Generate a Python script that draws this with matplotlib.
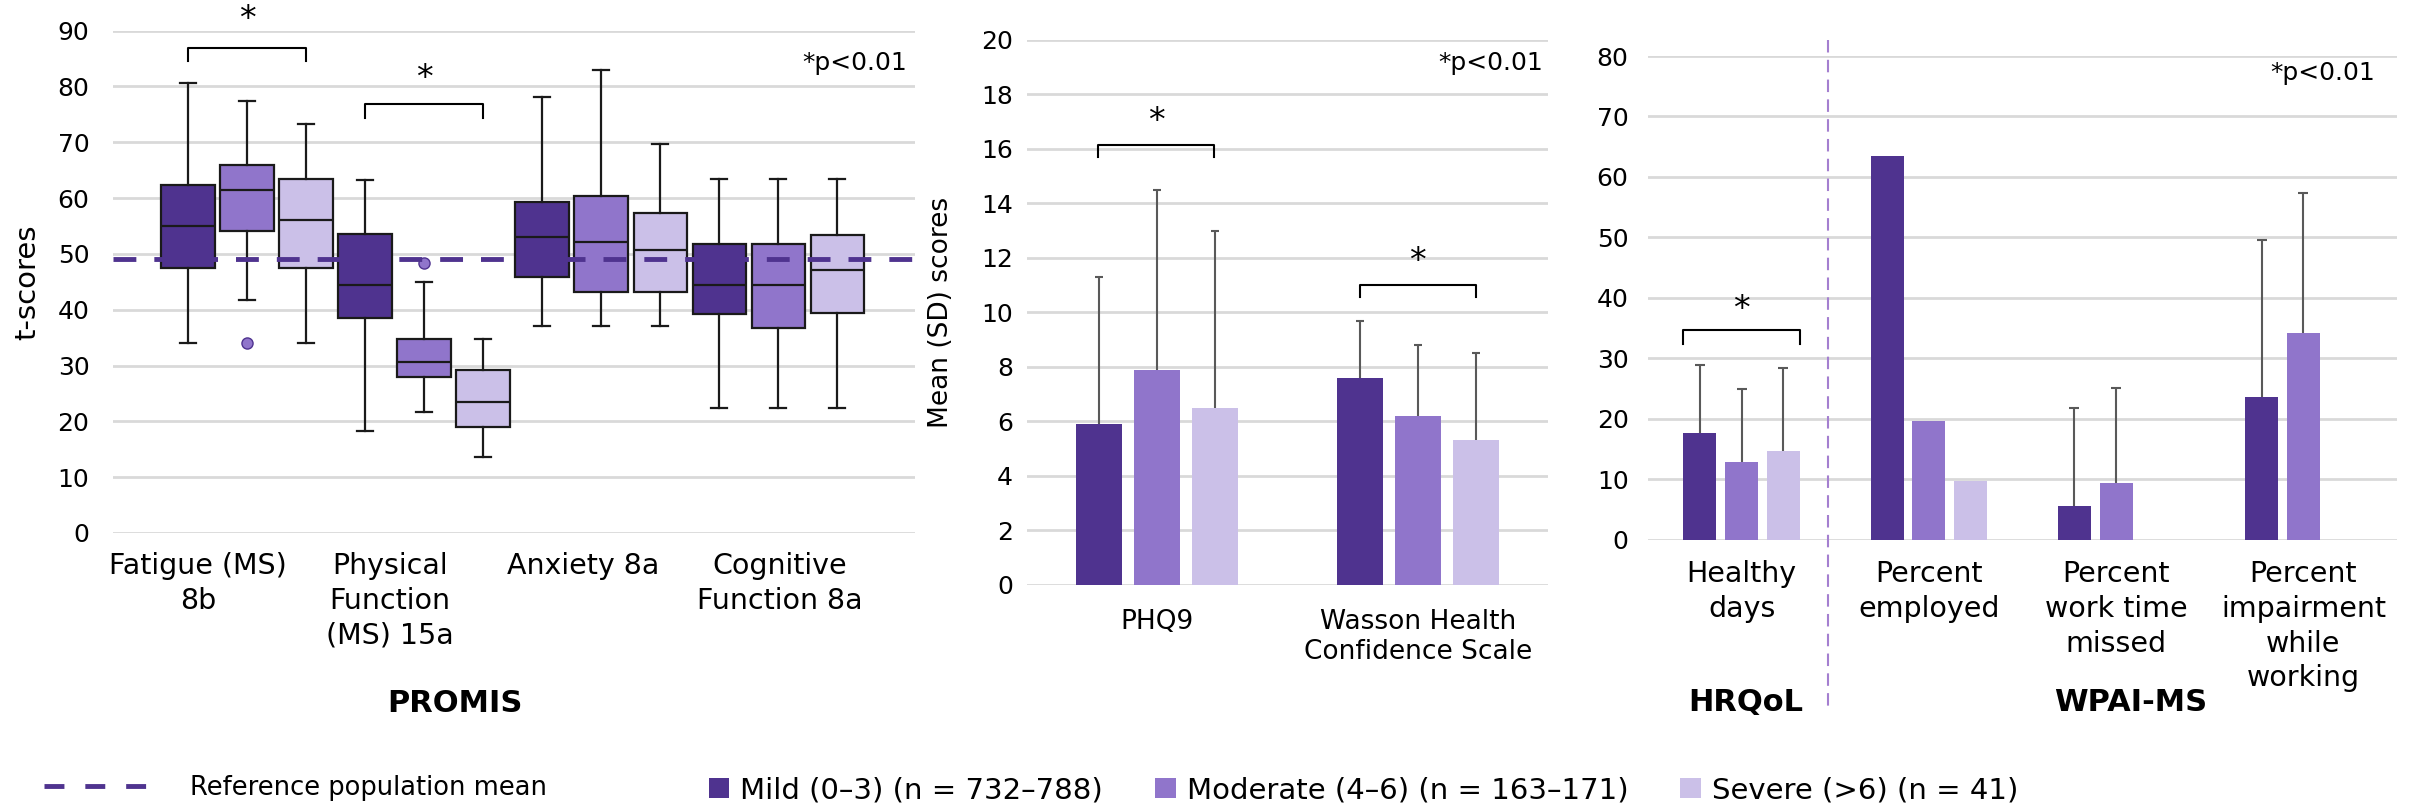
import numpy as np
import matplotlib
matplotlib.use("Agg")
import matplotlib.pyplot as plt
from matplotlib.lines import Line2D
from matplotlib.patches import Patch
import matplotlib.transforms as mtransforms

plt.rcParams['font.family'] = ['DejaVu Sans']

# ---- data ----
severity = ['Mild (0–3) (n = 732–788)', 'Moderate (4–6) (n = 163–171)', 'Severe (>6) (n = 41)']
colors = ['#4f338f', '#9075cb', '#cbc0e8']

promis_labels = ['Fatigue (MS)\n8b', 'Physical\nFunction\n(MS) 15a', 'Anxiety 8a', 'Cognitive\nFunction 8a']
# per box: Fatigue M/Mo/S, Physical M/Mo/S, Anxiety M/Mo/S, Cognitive M/Mo/S
box_whislo = [34.0, 41.7, 34.0, 18.2, 21.7, 13.7, 37.0, 37.0, 37.0, 22.4, 22.4, 22.4]
box_q1 = [47.5, 54.1, 47.5, 38.6, 27.9, 18.9, 45.8, 43.1, 43.1, 39.2, 36.8, 39.4]
box_med = [55.0, 61.4, 56.1, 44.5, 30.7, 23.4, 53.1, 52.1, 50.7, 44.5, 44.5, 47.1]
box_q3 = [62.4, 66.0, 63.5, 53.5, 34.8, 29.2, 59.3, 60.3, 57.3, 51.7, 51.7, 53.3]
box_whishi = [80.7, 77.3, 73.3, 63.2, 45.0, 34.8, 78.1, 82.9, 69.6, 63.5, 63.5, 63.5]
box_fliers = [[], [34.1], [], [], [48.4], [], [], [], [], [], [], []]
ref_mean = 49.1

mid_labels = ['PHQ9', 'Wasson Health\nConfidence Scale']
mid_mean = [[5.9, 7.6], [7.9, 6.2], [6.5, 5.3]]
mid_sd = [[5.4, 2.1], [6.6, 2.6], [6.5, 3.2]]

right_labels = ['Healthy\ndays', 'Percent\nemployed', 'Percent\nwork time\nmissed', 'Percent\nimpairment\nwhile\nworking']
right_mean = [[17.7, 63.4, 5.6, 23.5], [12.8, 19.6, 9.3, 34.1], [14.7, 9.6, np.nan, np.nan]]
right_sd = [[11.2, 0, 16.2, 26.1], [12.1, 0, 15.8, 23.3], [13.6, 0, 0, 0]]

W, H = 2409, 811
fig = plt.figure(figsize=(W / 100, H / 100), dpi=100)

GRID = '#d9d9d9'
FS = 18
CAT_FS = 20.5


def px_axes(x0, x1, ytop, ybot):
    return fig.add_axes([x0 / W, (H - ybot) / H, (x1 - x0) / W, (ybot - ytop) / H])


def style(ax, ypad):
    for s in ax.spines.values():
        s.set_visible(False)
    ax.tick_params(length=0, labelsize=FS)
    ax.tick_params(axis='y', pad=ypad)
    ax.yaxis.grid(True, color=GRID, linewidth=2)
    ax.set_axisbelow(True)


def bracket(ax, x0, x1, ylo, yhi, ystar):
    ax.plot([x0, x0, x1, x1], [ylo, yhi, yhi, ylo], color='black', lw=1.5, clip_on=False)
    ax.text((x0 + x1) / 2, ystar, '*', ha='center', va='center', fontsize=24, clip_on=False)


def up_errors(ax, x, m, sd, cap):
    # upper-only error bars, no cap at the bar top
    eb = ax.errorbar(x, m, yerr=[np.zeros(len(m)), sd], fmt='none', ecolor='#595959',
                     elinewidth=1.5, capsize=cap, capthick=1.5)
    eb[1][0].set_visible(False)


# ---- left: PROMIS boxplots ----
ax1 = px_axes(113, 915, 30.6, 533)
style(ax1, 17)
stats = []
for i in range(12):
    stats.append(dict(med=box_med[i], q1=box_q1[i], q3=box_q3[i],
                      whislo=box_whislo[i], whishi=box_whishi[i], fliers=box_fliers[i]))
pos = np.arange(12)
bp = ax1.bxp(stats, positions=pos, widths=0.9, patch_artist=True, capwidths=0.27,
             boxprops=dict(edgecolor='#1a1a1a', linewidth=1.6),
             medianprops=dict(color='#1a1a1a', linewidth=1.6),
             whiskerprops=dict(color='#1a1a1a', linewidth=1.6),
             capprops=dict(color='#1a1a1a', linewidth=1.6),
             flierprops=dict(marker='o', markersize=8, markerfacecolor=colors[1],
                             markeredgecolor='#4f338f', markeredgewidth=1))
for i, patch in enumerate(bp['boxes']):
    patch.set_facecolor(colors[i % 3])
ax1.axhline(ref_mean, color='#4f338f', lw=3.5, dashes=(4.7, 3.7), zorder=5)
ax1.set_xlim(-1.27, 12.32)
ax1.set_ylim(0, 90)
ax1.set_yticks(range(0, 91, 10))
ax1.set_xticks([0.17, 3.42, 6.7, 10.03])
ax1.set_xticklabels(promis_labels, fontsize=CAT_FS, va='top', linespacing=1.3)
ax1.tick_params(axis='x', pad=14)
ax1.set_ylabel('t-scores', fontsize=21)
ax1.yaxis.set_label_coords(-0.09, 0.5)
bracket(ax1, 0, 2, 84.5, 86.8, 92.0)
bracket(ax1, 3, 5, 74.4, 76.8, 81.4)
ax1.text(0.99, 0.935, '*p<0.01', transform=ax1.transAxes, ha='right', va='center', fontsize=FS)
fig.text(455 / W, (H - 704) / H, 'PROMIS', ha='center', va='center', fontsize=22, fontweight='bold')

# ---- middle: PHQ9 / Wasson ----
BW, OFF = 0.177, 0.223
ax2 = px_axes(1027, 1548, 39.7, 585)
style(ax2, 10)
x2 = np.arange(len(mid_labels))
for k in range(3):
    m = np.array(mid_mean[k])
    xk = x2 + (k - 1) * OFF
    ax2.bar(xk, m, BW, color=colors[k])
    up_errors(ax2, xk, m, np.array(mid_sd[k]), 3)
ax2.set_xlim(-0.5, 1.5)
ax2.set_ylim(0, 20)
ax2.set_yticks(range(0, 21, 2))
ax2.set_xticks(x2)
ax2.set_xticklabels(mid_labels, fontsize=19, linespacing=1.2)
ax2.tick_params(axis='x', pad=17)
ax2.set_ylabel('Mean (SD) scores', fontsize=19)
ax2.yaxis.set_label_coords(-0.141, 0.5)
bracket(ax2, -OFF * 1.02, OFF * 0.98, 15.7, 16.13, 17.0)
bracket(ax2, 1 - OFF, 1 + OFF, 10.56, 11.0, 11.85)
ax2.text(0.99, 0.958, '*p<0.01', transform=ax2.transAxes, ha='right', va='center', fontsize=FS)

# ---- right: HRQoL / WPAI-MS ----
ax3 = px_axes(1648, 2397, 56, 539.5)
style(ax3, 14)
x3 = np.arange(len(right_labels))
for k in range(3):
    m = np.array(right_mean[k])
    sd = np.array(right_sd[k])
    xk = x3 + (k - 1) * OFF
    ax3.bar(xk, m, BW, color=colors[k])
    has = sd > 0
    up_errors(ax3, xk[has], m[has], sd[has], 3.5)
ax3.set_xlim(-0.5, 3.5)
ax3.set_ylim(0, 80)
ax3.set_yticks(range(0, 81, 10))
ax3.set_xticks(x3)
ax3.set_xticklabels(right_labels, fontsize=CAT_FS, va='top', linespacing=1.3)
ax3.tick_params(axis='x', pad=15)
bracket(ax3, -OFF - BW / 2, OFF + BW / 2, 32.4, 34.6, 38.0)
ax3.text(0.971, 0.965, '*p<0.01', transform=ax3.transAxes, ha='right', va='center', fontsize=FS)
trans = mtransforms.blended_transform_factory(ax3.transData, ax3.transAxes)
ax3.plot([0.46, 0.46], [1.033, -0.357], transform=trans, color='#a47fd0', lw=1.5,
         dashes=(6, 3.5), clip_on=False)
ax3.text(0.02, -0.338, 'HRQoL', transform=trans, ha='center', va='center', fontsize=22, fontweight='bold')
ax3.text(2.08, -0.338, 'WPAI-MS', transform=trans, ha='center', va='center', fontsize=22, fontweight='bold')

# ---- legends ----
ref_handle = Line2D([], [], color='#4f338f', lw=3.5, dashes=(4.1, 4.3))
fig.legend([ref_handle], ['Reference population mean'], loc='center left',
           bbox_to_anchor=(44 / W, (H - 788) / H), frameon=False, fontsize=18.5,
           handlelength=4.3, handletextpad=1.4, borderpad=0, borderaxespad=0)
sev_handles = [Patch(facecolor=c) for c in colors]
fig.legend(sev_handles, severity, loc='center left', ncol=3,
           bbox_to_anchor=(709 / W, (H - 790) / H), frameon=False, fontsize=21,
           handlelength=0.7, handleheight=0.7, handletextpad=0.38, columnspacing=1.78,
           borderpad=0, borderaxespad=0)

fig.savefig('out.png', dpi=100)
